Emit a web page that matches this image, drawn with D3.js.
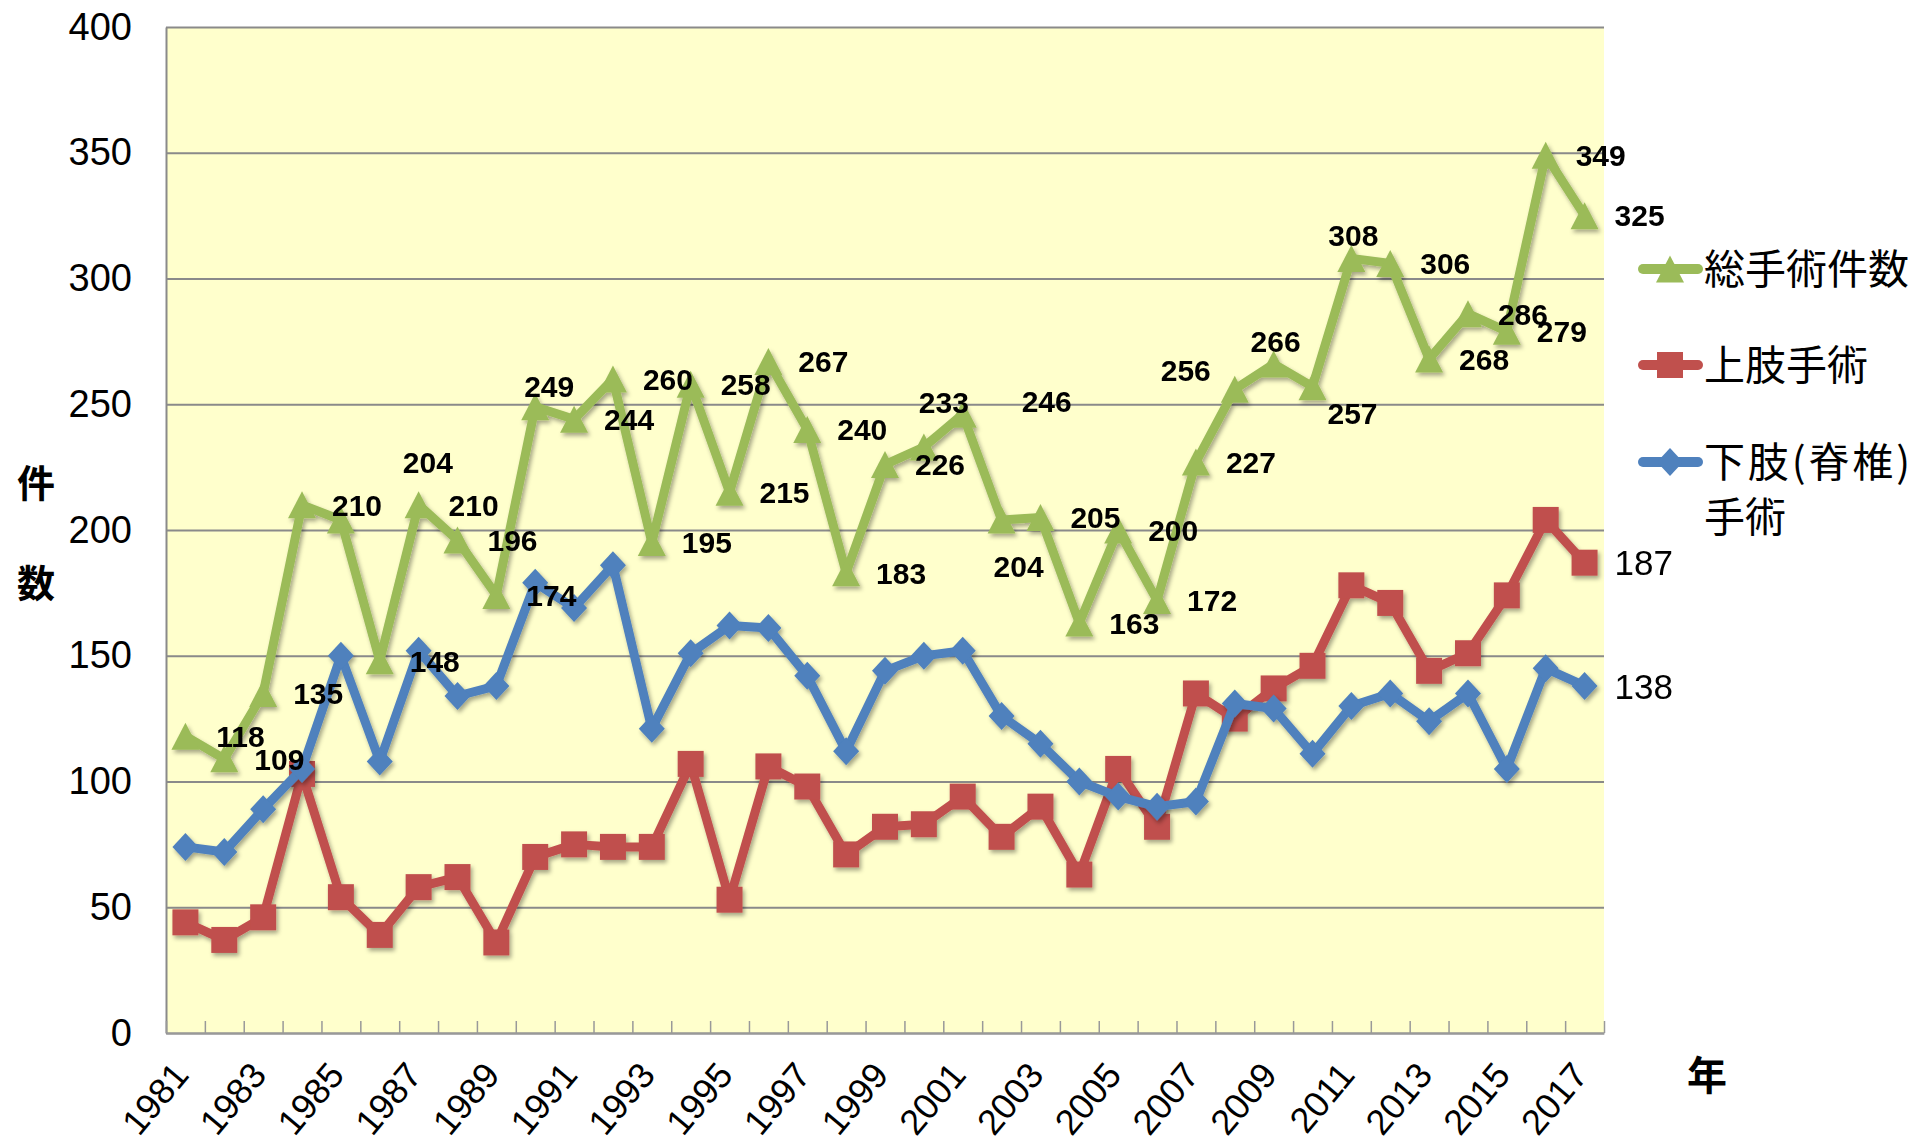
<!DOCTYPE html>
<html lang="ja">
<head>
<meta charset="utf-8">
<title>手術件数の推移</title>
<script src="https://cdn.jsdelivr.net/npm/d3@7"></script>
<style>
  body { margin: 0; background: #fff; }
  svg { display: block; }
  .num { font-family: "Liberation Sans", Arial, sans-serif; }
  .jp { font-family: "Noto Sans CJK JP", sans-serif; }
</style>
</head>
<body>
<svg id="chart" width="1918" height="1143"></svg>
<script>
// data
const years = d3.range(1981, 2018);
const total = [118, 109, 135, 210, 204, 148, 210, 196, 174, 249, 244, 260, 195, 258, 215, 267, 240, 183, 226,
               233, 246, 204, 205, 163, 200, 172, 227, 256, 266, 257, 308, 306, 268, 286, 279, 349, 325];
const upper = [44, 37, 46, 103, 54, 39, 58, 62, 36, 70, 75, 74, 74, 107, 53, 106, 98, 71, 82,
               83, 94, 78, 90, 63, 105, 82, 135, 125, 137, 146, 178, 171, 144, 151, 174, 204, 187];
const lower = [74, 72, 89, 105, 150, 108, 152, 134, 138, 179, 169, 186, 121, 151, 162, 161, 142, 112, 144,
               150, 152, 126, 115, 100, 94, 90, 92, 131, 129, 111, 130, 135, 124, 135, 105, 145, 138];
const yTicks = [0, 50, 100, 150, 200, 250, 300, 350, 400];
const seriesNames = ["総手術件数", "上肢手術", "下肢(脊椎)"];

// where each bold label sits relative to its point (most sit to the right)
const labelNudge = {
  1985: [87, -58], 1990: [14, -21], 2000: [20, -45], 2001: [84, -13], 2002: [17, 46],
  2008: [-49, -19], 2009: [2, -23], 2010: [40, 27], 2011: [2, -23]
};

const M = { left: 166, right: 1604, top: 27, bottom: 1033 };
const green = "#9BBB59", red = "#C0504D", blue = "#4F81BD";

const svg = d3.select("#chart");

// soft shadow like the office chart
const defs = svg.append("defs");
defs.append("filter").attr("id", "shadow")
  .attr("x", "-20%").attr("y", "-20%").attr("width", "140%").attr("height", "140%")
  .append("feDropShadow")
  .attr("dx", 2).attr("dy", 3).attr("stdDeviation", 2)
  .attr("flood-color", "#000").attr("flood-opacity", 0.35);

const x = d3.scaleBand().domain(years).range([M.left, M.right]);
const cx = d => x(d) + x.bandwidth() / 2;
const y = d3.scaleLinear().domain([0, 400]).range([M.bottom, M.top]);

// plot background
svg.append("rect")
  .attr("x", M.left).attr("y", M.top)
  .attr("width", M.right - M.left).attr("height", M.bottom - M.top)
  .attr("fill", "#FFFFCC");

// grid lines
svg.append("g")
  .attr("transform", `translate(${M.left},0)`)
  .call(d3.axisLeft(y).tickValues(yTicks).tickSize(-(M.right - M.left)).tickFormat(""))
  .call(g => g.select(".domain").remove())
  .call(g => g.selectAll("line").attr("stroke", "#8a8a8a").attr("stroke-width", 2));

// y axis
svg.append("g")
  .attr("transform", `translate(${M.left},0)`)
  .call(d3.axisLeft(y).tickValues(yTicks).tickSize(0).tickPadding(34))
  .call(g => g.select(".domain").attr("stroke", "#8a8a8a").attr("stroke-width", 2))
  .call(g => g.selectAll("text").attr("class", "num").attr("font-size", 38).attr("fill", "#000"));

// x axis line + inner tick marks at category edges
const xEdge = d3.scaleLinear().domain([0, years.length]).range([M.left, M.right]);
svg.append("g")
  .attr("transform", `translate(0,${M.bottom})`)
  .call(d3.axisTop(xEdge).tickValues(d3.range(years.length + 1)).tickSize(12).tickSizeOuter(0).tickFormat(""))
  .call(g => g.select(".domain").attr("stroke", "#999").attr("stroke-width", 2))
  .call(g => g.selectAll("line").attr("stroke", "#999").attr("stroke-width", 1.5));

// x tick labels, every second year, slanted
svg.append("g")
  .attr("transform", `translate(0,${M.bottom})`)
  .call(d3.axisBottom(x).tickValues(years.filter((d, i) => i % 2 === 0)).tickSize(0))
  .call(g => g.select(".domain").remove())
  .call(g => g.selectAll("text")
    .attr("class", "num").attr("font-size", 36).attr("fill", "#000")
    .attr("y", null).attr("dy", null)
    .attr("text-anchor", "end")
    .attr("transform", "translate(5,43) rotate(-50)"));

// axis titles
svg.append("text").attr("class", "jp").attr("x", 36).attr("y", 483).attr("dy", "0.36em")
  .attr("text-anchor", "middle").attr("font-size", 38).attr("font-weight", "bold").text("件");
svg.append("text").attr("class", "jp").attr("x", 36).attr("y", 583).attr("dy", "0.36em")
  .attr("text-anchor", "middle").attr("font-size", 38).attr("font-weight", "bold").text("数");
svg.append("text").attr("class", "jp").attr("x", 1707).attr("y", 1076).attr("dy", "0.36em")
  .attr("text-anchor", "middle").attr("font-size", 40).attr("font-weight", "bold").text("年");

// marker shapes
const tri = "M0,-13.5L14,13.5L-14,13.5Z";
const sq = "M-13,-13H13V13H-13Z";
const dia = "M0,-14L13,0L0,14L-13,0Z";

function drawSeries(vals, color, shape) {
  const g = svg.append("g").attr("filter", "url(#shadow)");
  const line = d3.line().x((d, i) => cx(years[i])).y(d => y(d));
  g.append("path").datum(vals)
    .attr("d", line)
    .attr("fill", "none").attr("stroke", color).attr("stroke-width", 9)
    .attr("stroke-linejoin", "round").attr("stroke-linecap", "round");
  g.selectAll(".mk").data(vals).join("path")
    .attr("d", shape)
    .attr("transform", (d, i) => `translate(${cx(years[i])},${y(d)})`)
    .attr("fill", color);
}

drawSeries(total, green, tri);
drawSeries(upper, red, sq);
drawSeries(lower, blue, dia);

// value labels for total
svg.append("g").selectAll("text").data(total).join("text")
  .attr("class", "num")
  .attr("x", (d, i) => cx(years[i]) + (labelNudge[years[i]] || [55, 0])[0])
  .attr("y", (d, i) => y(d) + (labelNudge[years[i]] || [55, 0])[1])
  .attr("dy", "0.36em")
  .attr("text-anchor", "middle")
  .attr("font-size", 30).attr("font-weight", "bold").attr("fill", "#000")
  .text(d => d);

// last values of the two other series
const last = years.length - 1;
[[upper, upper[last]], [lower, lower[last]]].forEach(([vals, v]) => {
  svg.append("text").attr("class", "num")
    .attr("x", cx(years[last]) + 30).attr("y", y(v)).attr("dy", "0.36em")
    .attr("font-size", 35).attr("fill", "#000").text(v);
});

// legend
const legend = svg.append("g");
const legendRows = [
  { name: seriesNames[0], color: green, shape: tri, y: 269 },
  { name: seriesNames[1], color: red, shape: sq, y: 365 },
  { name: seriesNames[2], color: blue, shape: dia, y: 462 }
];
legendRows.forEach(r => {
  legend.append("line").attr("x1", 1643).attr("x2", 1698).attr("y1", r.y).attr("y2", r.y)
    .attr("stroke", r.color).attr("stroke-width", 10).attr("stroke-linecap", "round");
  legend.append("path").attr("d", r.shape).attr("transform", `translate(1670,${r.y})`).attr("fill", r.color);
});
legend.append("text").attr("class", "jp").attr("x", 1704).attr("y", 269).attr("dy", "0.36em")
  .attr("font-size", 41).attr("textLength", 205).text(seriesNames[0]);
legend.append("text").attr("class", "jp").attr("x", 1704).attr("y", 365).attr("dy", "0.36em")
  .attr("font-size", 41).text(seriesNames[1]);
legend.append("text").attr("class", "jp").attr("x", 1704).attr("y", 462).attr("dy", "0.36em")
  .attr("font-size", 41).attr("textLength", 206).attr("lengthAdjust", "spacing").text(seriesNames[2]);
legend.append("text").attr("class", "jp").attr("x", 1704).attr("y", 517).attr("dy", "0.36em")
  .attr("font-size", 41).text("手術");
</script>
</body>
</html>
